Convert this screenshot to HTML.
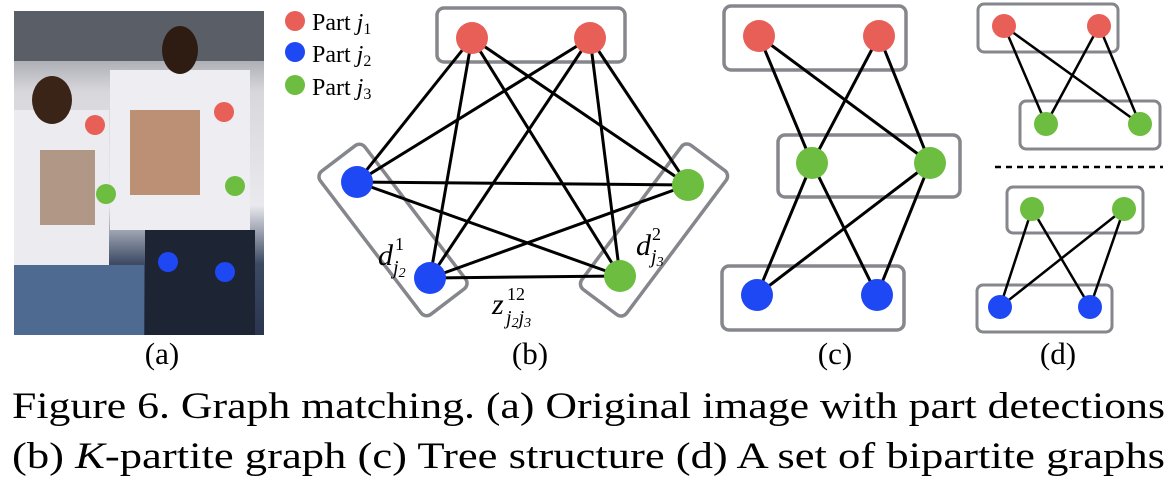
<!DOCTYPE html>
<html><head><meta charset="utf-8"><style>
body{margin:0;background:#fff;width:1176px;height:488px;overflow:hidden;font-family:"Liberation Serif",serif}
</style></head><body>
<svg width="1176" height="488" viewBox="0 0 1176 488" xmlns="http://www.w3.org/2000/svg" font-family="Liberation Serif, serif">
<defs>
<linearGradient id="ph" x1="0" y1="0" x2="0" y2="1">
<stop offset="0" stop-color="#6b6f78"/><stop offset="0.25" stop-color="#d8d8dc"/><stop offset="0.6" stop-color="#e9e9ee"/><stop offset="0.78" stop-color="#3c4a63"/><stop offset="1" stop-color="#2a3550"/></linearGradient>
</defs>
<rect x="14" y="11" width="250" height="324" fill="url(#ph)"/>
<rect x="14" y="11" width="250" height="50" fill="#5a5e66"/>
<rect x="110" y="70" width="140" height="160" fill="#eeeef2"/>
<rect x="14" y="110" width="95" height="160" fill="#ececf0"/>
<rect x="130" y="110" width="70" height="85" fill="#a5683e" opacity="0.7"/>
<rect x="40" y="150" width="55" height="75" fill="#8a6040" opacity="0.6"/>
<ellipse cx="52" cy="100" rx="20" ry="24" fill="#3a2418"/>
<ellipse cx="180" cy="50" rx="18" ry="24" fill="#2e1c12"/>
<rect x="14" y="265" width="130" height="70" fill="#4e6a90"/>
<rect x="145" y="230" width="110" height="105" fill="#1d2434"/>
<circle cx="95" cy="125" r="10" fill="#e85f58"/><circle cx="224" cy="112" r="10" fill="#e85f58"/>
<circle cx="106" cy="194" r="10" fill="#6dbd41"/><circle cx="235" cy="186" r="10" fill="#6dbd41"/>
<circle cx="168" cy="262" r="10" fill="#1f48f5"/><circle cx="225" cy="272" r="10" fill="#1f48f5"/>
<circle cx="295" cy="21" r="10" fill="#e85f58"/><circle cx="295" cy="52" r="10" fill="#1f48f5"/><circle cx="295" cy="85" r="10" fill="#6dbd41"/>
<g font-size="24"><text x="312" y="30">Part <tspan font-style="italic">j</tspan><tspan font-size="16" dy="4">1</tspan></text>
<text x="312" y="62">Part <tspan font-style="italic">j</tspan><tspan font-size="16" dy="4">2</tspan></text>
<text x="312" y="95">Part <tspan font-style="italic">j</tspan><tspan font-size="16" dy="4">3</tspan></text></g>
<g fill="none" stroke="#85878c" stroke-width="3.5">
<rect x="437" y="8" width="188" height="54" rx="7"/>
<rect x="-90" y="-28" width="180" height="56" rx="7" transform="translate(393,230) rotate(52.7)"/>
<rect x="-90" y="-28" width="180" height="56" rx="7" transform="translate(654,230) rotate(126.8)"/>
</g>
<g stroke="#000" stroke-width="3">
<line x1="472" y1="38" x2="357" y2="182"/><line x1="472" y1="38" x2="430" y2="278"/><line x1="472" y1="38" x2="688" y2="185"/><line x1="472" y1="38" x2="620" y2="276"/>
<line x1="590" y1="38" x2="357" y2="182"/><line x1="590" y1="38" x2="430" y2="278"/><line x1="590" y1="38" x2="688" y2="185"/><line x1="590" y1="38" x2="620" y2="276"/>
<line x1="357" y1="182" x2="688" y2="185"/><line x1="357" y1="182" x2="620" y2="276"/><line x1="430" y1="278" x2="688" y2="185"/><line x1="430" y1="278" x2="620" y2="276"/>
</g>
<circle cx="472" cy="38" r="16" fill="#e85f58"/><circle cx="590" cy="38" r="16" fill="#e85f58"/>
<circle cx="357" cy="182" r="16" fill="#1f48f5"/><circle cx="430" cy="278" r="16" fill="#1f48f5"/>
<circle cx="688" cy="185" r="16" fill="#6dbd41"/><circle cx="620" cy="276" r="16" fill="#6dbd41"/>
<g font-style="italic">
<text x="378" y="265" font-size="30">d</text><text x="395" y="250" font-size="18" font-style="normal">1</text><text x="393" y="274" font-size="20">j<tspan font-size="14" dy="3">2</tspan></text>
<text x="636" y="255" font-size="30">d</text><text x="652" y="240" font-size="18" font-style="normal">2</text><text x="651" y="263" font-size="20">j<tspan font-size="14" dy="3">3</tspan></text>
<text x="492" y="314" font-size="30">z</text><text x="507" y="300" font-size="18" font-style="normal">12</text><text x="506" y="324" font-size="20">j<tspan font-size="14" dy="3">2</tspan><tspan dy="-3">j</tspan><tspan font-size="14" dy="3">3</tspan></text>
</g>
<g fill="none" stroke="#85878c" stroke-width="3.5">
<rect x="724" y="6" width="182" height="64" rx="7"/>
<rect x="778" y="135" width="182" height="62" rx="7"/>
<rect x="722" y="266" width="182" height="64" rx="7"/>
</g>
<g stroke="#000" stroke-width="3">
<line x1="759" y1="36" x2="812" y2="163"/><line x1="759" y1="36" x2="930" y2="163"/><line x1="879" y1="36" x2="812" y2="163"/><line x1="879" y1="36" x2="930" y2="163"/>
<line x1="812" y1="163" x2="757" y2="295"/><line x1="812" y1="163" x2="877" y2="295"/><line x1="930" y1="163" x2="757" y2="295"/><line x1="930" y1="163" x2="877" y2="295"/>
</g>
<circle cx="759" cy="36" r="16" fill="#e85f58"/><circle cx="879" cy="36" r="16" fill="#e85f58"/>
<circle cx="812" cy="163" r="16" fill="#6dbd41"/><circle cx="930" cy="163" r="16" fill="#6dbd41"/>
<circle cx="757" cy="295" r="16" fill="#1f48f5"/><circle cx="877" cy="295" r="16" fill="#1f48f5"/>
<g fill="none" stroke="#85878c" stroke-width="3">
<rect x="978" y="4" width="140" height="48" rx="6"/>
<rect x="1020" y="101" width="140" height="48" rx="6"/>
<rect x="1007" y="187" width="136" height="46" rx="6"/>
<rect x="977" y="285" width="135" height="47" rx="6"/>
</g>
<line x1="995" y1="167" x2="1163" y2="167" stroke="#000" stroke-width="2.5" stroke-dasharray="6,5"/>
<g stroke="#000" stroke-width="2.5">
<line x1="1004" y1="26" x2="1046" y2="124"/><line x1="1004" y1="26" x2="1140" y2="124"/><line x1="1099" y1="26" x2="1046" y2="124"/><line x1="1099" y1="26" x2="1140" y2="124"/>
<line x1="1032" y1="209" x2="1000" y2="307"/><line x1="1032" y1="209" x2="1090" y2="307"/><line x1="1124" y1="209" x2="1000" y2="307"/><line x1="1124" y1="209" x2="1090" y2="307"/>
</g>
<circle cx="1004" cy="26" r="12" fill="#e85f58"/><circle cx="1099" cy="26" r="12" fill="#e85f58"/>
<circle cx="1046" cy="124" r="12" fill="#6dbd41"/><circle cx="1140" cy="124" r="12" fill="#6dbd41"/>
<circle cx="1032" cy="209" r="12" fill="#6dbd41"/><circle cx="1124" cy="209" r="12" fill="#6dbd41"/>
<circle cx="1000" cy="307" r="12" fill="#1f48f5"/><circle cx="1090" cy="307" r="12" fill="#1f48f5"/>
<g font-size="31" text-anchor="middle">
<text x="162" y="364">(a)</text><text x="530" y="364">(b)</text><text x="835" y="364">(c)</text><text x="1058" y="364">(d)</text>
</g>
<g font-size="37">
<text x="12" y="418" textLength="1153" lengthAdjust="spacingAndGlyphs">Figure 6. Graph matching. (a) Original image with part detections</text>
<text x="12" y="468" textLength="1153" lengthAdjust="spacingAndGlyphs">(b) <tspan font-style="italic">K</tspan>-partite graph (c) Tree structure (d) A set of bipartite graphs</text>
</g>
</svg>
</body></html>
